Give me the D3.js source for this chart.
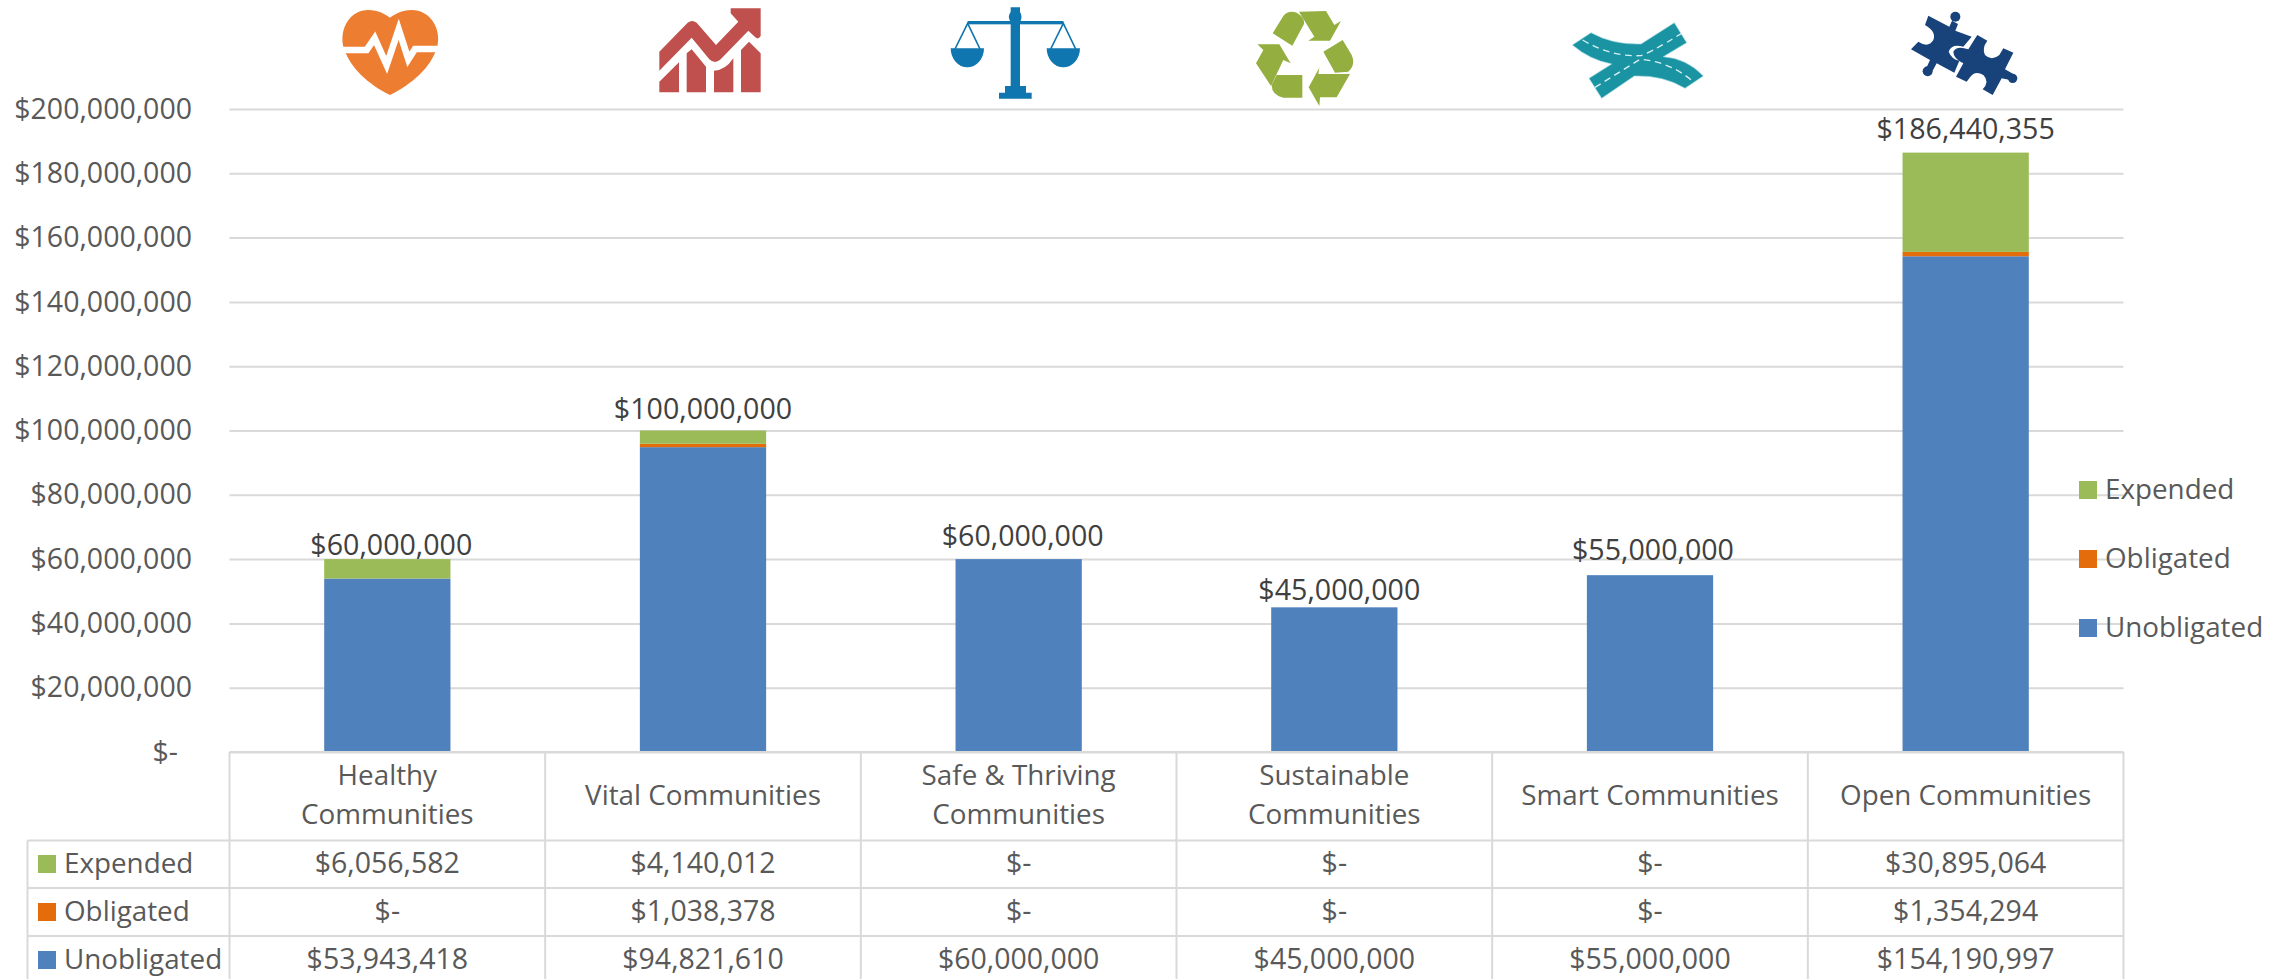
<!DOCTYPE html>
<html><head><meta charset="utf-8">
<script src="https://cdn.jsdelivr.net/npm/d3@7"></script>
<style>
html,body{margin:0;padding:0;background:#fff}
svg{display:block}
text{font-family:"Open Sans",sans-serif}
</style></head><body><svg id="c" width="2288" height="979"></svg>
<script>
const categories=[["Healthy","Communities"],["Vital Communities"],["Safe & Thriving","Communities"],["Sustainable","Communities"],["Smart Communities"],["Open Communities"]];
const unobligated=[53943418,94821610,60000000,45000000,55000000,154190997];
const obligated=[0,1038378,0,0,0,1354294];
const expended=[6056582,4140012,0,0,0,30895064];
const seriesNames=["Unobligated","Obligated","Expended"];
const seriesColors=["#4F81BD","#E46C0A","#9BBB59"];
const yTicks=[0,20e6,40e6,60e6,80e6,100e6,120e6,140e6,160e6,180e6,200e6];

const svg=d3.select("#c");
const L=229.5,R=2123.5,T=109,B=752;
const FS=27.8,FN=28.5;
const x=d3.scaleBand().domain(d3.range(6)).range([L,R]).paddingInner(0.6).paddingOuter(0.3);
const col=d3.scaleBand().domain(d3.range(6)).range([L,R]);
const y=d3.scaleLinear().domain([0,200e6]).range([B,T]);
const fmt=v=>v===0?"$-":"$"+d3.format(",")(v);
const grid="#D9D9D9",txt="#595959",lab="#404040";

// gridlines + tick labels
const ax=svg.append("g").attr("transform",`translate(${L},0)`).call(
  d3.axisLeft(y).tickValues(yTicks).tickFormat(fmt).tickSize(0).tickPadding(37.5));
ax.select(".domain").remove();
ax.selectAll("text").attr("font-size",FN).attr("fill",txt)
  .attr("dx",d=>d===0?-14:0).attr("dy","0.32em");
ax.selectAll("line").attr("x1",0).attr("x2",R-L).attr("stroke",grid).attr("stroke-width",2);

// stacked bars
const data=categories.map((c,i)=>({i,Unobligated:unobligated[i],Obligated:obligated[i],Expended:expended[i]}));
const stack=d3.stack().keys(seriesNames)(data);
svg.append("g").selectAll("g").data(stack).join("g").attr("fill",(d,i)=>seriesColors[i])
  .selectAll("rect").data(d=>d).join("rect")
  .attr("x",d=>x(d.data.i)).attr("width",x.bandwidth())
  .attr("y",d=>y(d[1])).attr("height",d=>y(d[0])-y(d[1]));

// totals
const labelGap=[14,22,23,17.5,25.5,24];
const labelShift=[4,0,4,5,3,0];
svg.append("g").selectAll("text").data(data).join("text")
  .attr("x",d=>col(d.i)+col.bandwidth()/2+labelShift[d.i])
  .attr("y",d=>y(d.Unobligated+d.Obligated+d.Expended)-labelGap[d.i])
  .attr("text-anchor","middle").attr("dy","0.35em").attr("font-size",28.6).attr("fill",lab)
  .text(d=>fmt(d.Unobligated+d.Obligated+d.Expended));

// data table
const rowLines=[752,840.5,888,936];
const tg=svg.append("g").attr("stroke",grid).attr("stroke-width",2);
tg.append("line").attr("x1",L).attr("x2",R).attr("y1",rowLines[0]).attr("y2",rowLines[0]);
rowLines.slice(1).forEach(v=>tg.append("line").attr("x1",27.5).attr("x2",R).attr("y1",v).attr("y2",v));
d3.range(7).forEach(i=>{const px=L+col.bandwidth()*i;tg.append("line").attr("x1",px).attr("x2",px).attr("y1",rowLines[0]).attr("y2",979)});
tg.append("line").attr("x1",27.5).attr("x2",27.5).attr("y1",rowLines[1]).attr("y2",979);

const hdr=svg.append("g");
categories.forEach((c,i)=>{
  const cx=col(i)+col.bandwidth()/2;
  const ys=c.length===2?[775,814]:[795];
  c.forEach((t,k)=>hdr.append("text").attr("x",cx).attr("y",ys[k]).attr("dy","0.35em").attr("text-anchor","middle")
    .attr("font-size",FS).attr("fill",txt).text(t));
});
const rows=[{n:"Expended",v:expended,c:seriesColors[2],cy:864},{n:"Obligated",v:obligated,c:seriesColors[1],cy:912},{n:"Unobligated",v:unobligated,c:seriesColors[0],cy:960}];
rows.forEach(r=>{
  svg.append("rect").attr("x",38).attr("y",r.cy-9).attr("width",18).attr("height",18).attr("fill",r.c);
  svg.append("text").attr("x",64).attr("y",r.cy-1).attr("dy","0.35em").attr("font-size",FS).attr("fill",txt).text(r.n);
  r.v.forEach((v,i)=>svg.append("text").attr("x",col(i)+col.bandwidth()/2).attr("y",r.cy-1).attr("dy","0.35em")
    .attr("text-anchor","middle").attr("font-size",FN).attr("fill",txt).text(fmt(v)));
});

// legend
const legendY=[490,559,628];
rows.forEach((r,i)=>{
  svg.append("rect").attr("x",2079).attr("y",legendY[i]-9).attr("width",18).attr("height",18).attr("fill",r.c);
  svg.append("text").attr("x",2105).attr("y",legendY[i]-1).attr("dy","0.35em").attr("font-size",FS).attr("fill",txt).text(r.n);
});

// icons (traced in crop coordinates, each placed by a translate + scale)
function icon(dx,dy){return svg.append("g").attr("transform",`translate(${dx},${dy}) scale(${1/3})`)}
// heart
let g=icon(300,0);
g.append("path").attr("fill","#ED7D31").attr("d","M270 285C205 252 150 205 130 140C118 85 150 30 205 30C235 30 255 42 270 53C285 42 305 30 335 30C390 30 425 85 412 140C392 205 335 252 270 285Z");
g.append("path").attr("fill","none").attr("stroke","#fff").attr("stroke-width",20).attr("stroke-linejoin","miter")
 .attr("d","M125 150H200L224 115L260 195L296 88L325 178L345 147H420");
// rising chart
g=icon(300,0);
g.append("path").attr("fill","#C0504D").attr("d","M1078 155L1163 68Q1176 58 1190 68L1248 135L1315 65L1292 40V25H1382V108Q1375 120 1366 112L1345 92L1262 178Q1245 194 1228 178L1175 113L1078 212Z");
g.append("path").attr("fill","#C0504D").attr("d","M1078 245L1137 187V277H1078ZM1160 160L1175 148L1218 200V277H1160ZM1242 212Q1275 212 1300 175V277H1242ZM1323 150L1347 125L1382 160V277H1323Z");
// scales
g=icon(900,0);
const blue="#1076B0";
g.append("path").attr("fill",blue).attr("d","M332 22H360V36Q368 48 362 62L360 70V258H378V278H395V296H297V278H315V258H332V70L330 62Q322 48 332 36Z");
g.append("rect").attr("x",203).attr("y",63).attr("width",287).attr("height",10).attr("fill",blue);
g.append("path").attr("fill","none").attr("stroke",blue).attr("stroke-width",5).attr("d","M165 147L203 70L240 147M452 147L490 70L527 147");
g.append("path").attr("fill",blue).attr("d","M152 145H252A50 57 0 0 1 152 145ZM440 145H540A50 57 0 0 1 440 145Z");
// recycle
g=icon(900,0);
g.append("path").attr("fill","#94AE3F").attr("d","M1118 100L1150 48Q1165 30 1190 38Q1215 52 1212 72L1177 137ZM1197 35L1278 33L1303 75L1323 63L1290 122H1225L1243 110ZM1270 155L1328 120L1355 165Q1368 195 1345 215L1305 218ZM1350 222L1310 292H1260L1258 318L1226 262L1258 203L1255 222ZM1207 225V293H1150Q1115 285 1115 255L1130 225ZM1113 258L1068 190L1090 150L1072 133H1138L1172 190L1150 180Z");
// roads
g=icon(1540,0);
g.append("path").attr("fill","#1A94A3").attr("stroke","#A7DCE2").attr("stroke-width",2).attr("d","M97 135L153 98Q220 135 303 132L403 68L440 128L370 170Q440 175 490 228L435 265Q370 225 283 228L185 295L147 235L215 192Q150 180 97 135Z");
g.append("path").attr("fill","none").attr("stroke","#D8F0F2").attr("stroke-width",4).attr("stroke-dasharray","20 14").attr("d","M128 120Q210 170 300 167Q320 165 425 100M165 262L300 178Q390 185 460 245");
// puzzle
g=icon(1540,0);
const navy="#17427A";
g.append("path").attr("fill",navy).attr("d","M1165 47L1228 80L1236 62L1254 72L1246 92L1295 110L1270 140Q1235 130 1226 155Q1235 178 1258 182L1243 218L1190 190L1178 212L1160 202L1170 180L1113 148L1135 125Q1165 145 1180 120Q1190 95 1155 75Z");
g.append("circle").attr("cx",1246).attr("cy",50).attr("r",15).attr("fill",navy);
g.append("circle").attr("cx",1163).attr("cy",214).attr("r",15).attr("fill",navy);
g.append("path").attr("fill",navy).attr("d","M1312 105L1342 122Q1325 145 1335 165Q1355 185 1378 165L1390 145L1420 158L1395 208L1420 222L1410 240L1385 235L1358 285L1328 268Q1350 245 1330 225Q1305 210 1290 232L1280 245L1248 230L1270 190Q1240 175 1240 155Q1250 135 1285 148Z");
g.append("circle").attr("cx",1418).attr("cy",235).attr("r",14).attr("fill",navy);
</script></body></html>
